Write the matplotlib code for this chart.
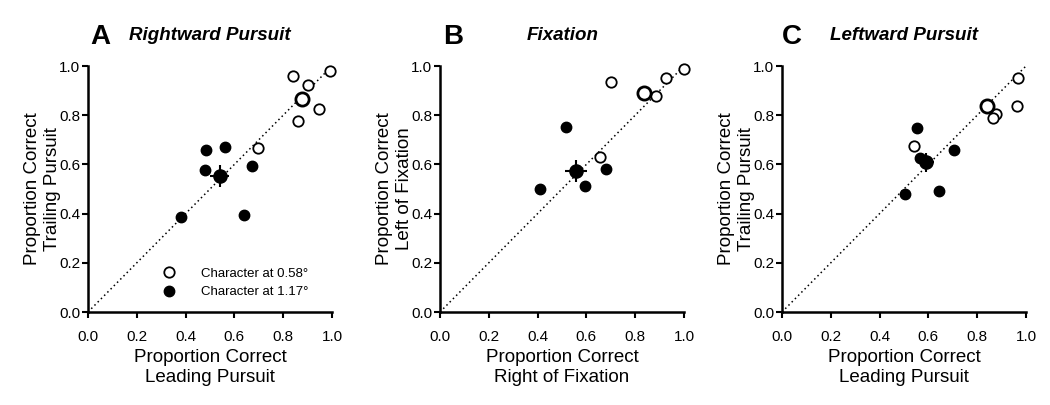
import matplotlib
matplotlib.use("Agg")
import matplotlib.pyplot as plt
from matplotlib.lines import Line2D

plt.rcParams['font.family'] = ['Liberation Sans', 'DejaVu Sans']

# ---- data ----
# A: rightward pursuit  (x = leading, y = trailing)
a_open_x = [0.842, 0.992, 0.900, 0.948, 0.860, 0.697]
a_open_y = [0.960, 0.980, 0.922, 0.824, 0.776, 0.668]
a_fill_x = [0.485, 0.563, 0.481, 0.673, 0.381, 0.640]
a_fill_y = [0.660, 0.669, 0.577, 0.593, 0.388, 0.396]
a_open_mean = [0.877, 0.865, 0.012, 0.012]   # x, y, xerr, yerr
a_fill_mean = [0.540, 0.554, 0.038, 0.045]

# B: fixation  (x = right of fixation, y = left of fixation)
b_open_x = [1.000, 0.925, 0.701, 0.887, 0.656]
b_open_y = [0.989, 0.952, 0.935, 0.880, 0.631]
b_fill_x = [0.516, 0.680, 0.596, 0.411]
b_fill_y = [0.754, 0.582, 0.512, 0.498]
b_open_mean = [0.836, 0.890, 0.012, 0.012]
b_fill_mean = [0.557, 0.574, 0.044, 0.044]

# C: leftward pursuit
c_open_x = [0.969, 0.963, 0.876, 0.865, 0.540]
c_open_y = [0.952, 0.837, 0.803, 0.790, 0.673]
c_fill_x = [0.555, 0.564, 0.706, 0.643, 0.504]
c_fill_y = [0.746, 0.624, 0.657, 0.493, 0.478]
c_open_mean = [0.840, 0.839, 0.012, 0.012]
c_fill_mean = [0.592, 0.608, 0.032, 0.037]

ticks = [0.0, 0.2, 0.4, 0.6, 0.8, 1.0]
tick_labels = ['0.0', '0.2', '0.4', '0.6', '0.8', '1.0']

panels = [
    ('A', 'Rightward Pursuit', 'Proportion Correct\nLeading Pursuit',
     'Proportion Correct\nTrailing Pursuit',
     a_open_x, a_open_y, a_fill_x, a_fill_y, a_open_mean, a_fill_mean),
    ('B', 'Fixation', 'Proportion Correct\nRight of Fixation',
     'Proportion Correct\nLeft of Fixation',
     b_open_x, b_open_y, b_fill_x, b_fill_y, b_open_mean, b_fill_mean),
    ('C', 'Leftward Pursuit', 'Proportion Correct\nLeading Pursuit',
     'Proportion Correct\nTrailing Pursuit',
     c_open_x, c_open_y, c_fill_x, c_fill_y, c_open_mean, c_fill_mean),
]

W, H = 1050, 405
fig = plt.figure(figsize=(W / 100, H / 100), dpi=100)

ax_left = [88, 440, 782]
letter_x = [90, 443, 782]
title_x = [129, 527, 830]

for i, (letter, title, xlab, ylab, ox, oy, fx, fy, om, fm) in enumerate(panels):
    ax = fig.add_axes([ax_left[i] / W, 1 - 312 / H, 244 / W, 246 / H])

    ax.plot([0, 1], [0, 1], color='black', linestyle=(0, (1, 2)), linewidth=1.1, zorder=1)

    ax.plot(ox, oy, 'o', mfc='white', mec='black', mew=1.3, ms=7.5, zorder=3)
    ax.plot(fx, fy, 'o', mfc='black', mec='black', ms=7.5, zorder=3)

    ax.errorbar([fm[0]], [fm[1]], xerr=[fm[2]], yerr=[fm[3]], fmt='o', color='black',
                ms=9.5, elinewidth=1.5, capsize=0, zorder=4)
    ax.errorbar([om[0]], [om[1]], xerr=[om[2]], yerr=[om[3]], fmt='o', mfc='white',
                mec='black', mew=2.0, ms=9.5, ecolor='black', elinewidth=1.5,
                capsize=0, zorder=4)

    ax.set_xlim(0, 1)
    ax.set_ylim(0, 1)
    ax.set_xticks(ticks)
    ax.set_yticks(ticks)
    ax.set_xticklabels(tick_labels)
    ax.set_yticklabels(tick_labels)
    ax.tick_params(direction='out', length=4.5, width=1.5, labelsize=11)
    ax.tick_params(axis='x', pad=8.5)
    ax.tick_params(axis='y', pad=1)
    for s in ['top', 'right']:
        ax.spines[s].set_visible(False)
    for s in ['left', 'bottom']:
        ax.spines[s].set_linewidth(1.8)

    ax.set_xlabel(xlab, fontsize=13.5, linespacing=1.27, labelpad=3.5)
    ax.set_ylabel(ylab, fontsize=13.5, linespacing=1.27, labelpad=-1.5)
    for ln in ax.lines:
        ln.set_clip_on(False)

    fig.text(letter_x[i] / W, 1 - 44 / H, letter, fontsize=20, fontweight='bold',
             ha='left', va='baseline')
    fig.text(title_x[i] / W, 1 - 39.5 / H, title, fontsize=13.5, fontweight='bold',
             fontstyle='italic', ha='left', va='baseline')

    if letter == 'A':
        handles = [
            Line2D([], [], linestyle='none', marker='o', mfc='white', mec='black',
                   mew=1.3, ms=7.5),
            Line2D([], [], linestyle='none', marker='o', mfc='black', mec='black', ms=7.5),
        ]
        ax.legend(handles, ['Character at 0.58°', 'Character at 1.17°'],
                  loc='center left', bbox_to_anchor=(0.305, 0.118), frameon=False,
                  fontsize=9.5, handlelength=1.0, handletextpad=1.9,
                  labelspacing=0.45, borderpad=0, borderaxespad=0)

fig.savefig('out.png', dpi=100)
